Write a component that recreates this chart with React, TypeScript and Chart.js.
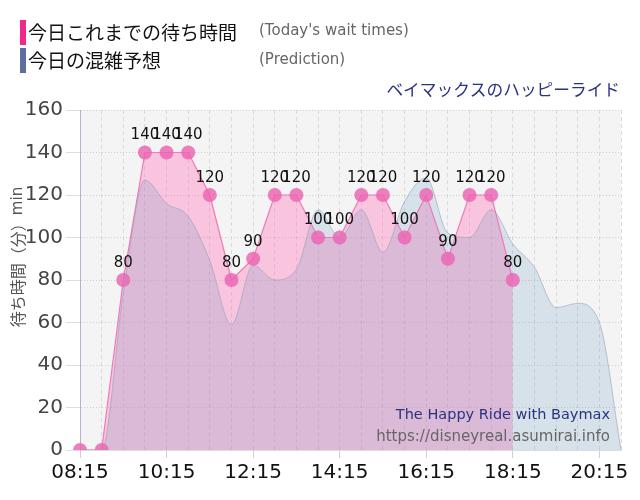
import React, { useEffect, useRef } from "react";
import { Chart, registerables } from "chart.js";

Chart.register(...registerables);

const timeLabels = [
  "08:15", "08:45", "09:15", "09:45", "10:15", "10:45", "11:15", "11:45",
  "12:15", "12:45", "13:15", "13:45", "14:15", "14:45", "15:15", "15:45",
  "16:15", "16:45", "17:15", "17:45", "18:15", "18:45", "19:15", "19:45",
  "20:15", "20:45",
];

const waitTimes: (number | null)[] = [
  0, 0, 80, 140, 140, 140, 120, 80, 90, 120, 120, 100, 100, 120, 120, 100,
  120, 90, 120, 120, 80, null, null, null, null, null,
];

const prediction = [
  0, 0, 74, 127, 116, 110, 89, 59, 87, 80, 85, 113, 100, 113, 93, 117, 128,
  102, 100, 113, 97, 86, 67, 69, 60, 0,
];

const yMin = 0;
const yMax = 160;
const yStep = 20;

const legendMain = ["今日これまでの待ち時間", "今日の混雑予想"];
const legendSub = ["(Today's wait times)", "(Prediction)"];
const rideTitle = "ベイマックスのハッピーライド";
const yTitleJa = "待ち時間（分）";
const yTitleEn = "min";
const markEn = "The Happy Ride with Baymax";
const markUrl = "https://disneyreal.asumirai.info";

const CJK = "'Noto Sans CJK JP', sans-serif";
const LAT = "'DejaVu Sans', sans-serif";

const decorPlugin = {
  id: "decor",
  beforeDraw(chart: any) {
    const { ctx, chartArea: a } = chart;
    ctx.save();
    ctx.fillStyle = "#ffffff";
    ctx.fillRect(0, 0, chart.width, chart.height);
    ctx.fillStyle = "#f4f4f4";
    ctx.fillRect(a.left, a.top, a.right - a.left, a.bottom - a.top);
    ctx.restore();
  },
  afterDatasetsDraw(chart: any) {
    const { ctx } = chart;
    const meta = chart.getDatasetMeta(1);
    ctx.save();
    ctx.font = `15px ${LAT}`;
    ctx.fillStyle = "#111";
    ctx.textAlign = "center";
    ctx.textBaseline = "middle";
    meta.data.forEach((pt: any, i: number) => {
      const v = waitTimes[i];
      if (v === null || v === 0) return;
      ctx.fillText(String(v), pt.x, pt.y - 17);
    });
    ctx.restore();
  },
  afterDraw(chart: any) {
    const { ctx } = chart;
    ctx.save();
    // legend bars
    ctx.fillStyle = "#f0288c";
    ctx.fillRect(20, 20, 6, 25);
    ctx.fillStyle = "#5f6d9e";
    ctx.fillRect(20, 48, 6, 25);
    ctx.textBaseline = "middle";
    ctx.textAlign = "left";
    ctx.font = `19px ${CJK}`;
    ctx.fillStyle = "#111";
    ctx.fillText(legendMain[0], 28, 33);
    ctx.fillText(legendMain[1], 28, 61);
    ctx.font = `15px ${LAT}`;
    ctx.fillStyle = "#666";
    ctx.fillText(legendSub[0], 259, 31);
    ctx.fillText(legendSub[1], 259, 60);
    // ride title
    ctx.textAlign = "right";
    ctx.font = `16.7px ${CJK}`;
    ctx.fillStyle = "#2a3382";
    ctx.fillText(rideTitle, 620, 90);
    // watermark
    ctx.font = `14.5px ${LAT}`;
    ctx.fillStyle = "#2a3382";
    ctx.fillText(markEn, 610, 415);
    ctx.font = `15px ${LAT}`;
    ctx.fillStyle = "#666";
    ctx.fillText(markUrl, 610, 437);
    // y title
    ctx.translate(18, 257);
    ctx.rotate(-Math.PI / 2);
    ctx.font = `16px ${CJK}`;
    const w1 = ctx.measureText(yTitleJa).width;
    ctx.font = `15px ${LAT}`;
    const w2 = ctx.measureText(yTitleEn).width;
    const start = -(w1 + w2) / 2;
    ctx.textAlign = "left";
    ctx.fillStyle = "#555";
    ctx.font = `16px ${CJK}`;
    ctx.fillText(yTitleJa, start, 0);
    ctx.font = `15px ${LAT}`;
    ctx.fillText(yTitleEn, start + w1, 0);
    ctx.restore();
  },
};

export default function App() {
  const ref = useRef<HTMLCanvasElement>(null);
  useEffect(() => {
    if (!ref.current) return;
    const chart = new Chart(ref.current, {
      type: "line",
      data: {
        labels: timeLabels,
        datasets: [
          {
            label: "Prediction",
            data: prediction,
            order: 0,
            fill: "origin",
            backgroundColor: "rgba(100,150,190,0.2)",
            borderColor: "rgba(150,160,180,0.6)",
            borderWidth: 1,
            pointRadius: 0,
            cubicInterpolationMode: "monotone",
          },
          {
            label: "Wait",
            data: waitTimes,
            order: 1,
            fill: "origin",
            backgroundColor: "rgba(255,105,180,0.35)",
            borderColor: "#f07ab8",
            borderWidth: 1.2,
            pointRadius: 7,
            pointBackgroundColor: "rgba(236,100,178,0.82)",
            pointBorderWidth: 0,
            tension: 0,
            spanGaps: false,
          },
        ],
      },
      options: {
        responsive: false,
        animation: false,
        devicePixelRatio: 1,
        layout: { padding: { left: 0, right: 19, top: 110, bottom: 0 } },
        plugins: {
          legend: { display: false },
          tooltip: { enabled: false },
          filler: { drawTime: "beforeDatasetsDraw" },
        },
        scales: {
          x: {
            type: "category",
            afterFit: (s: any) => { s.height = 50; },
            grid: {
              color: "#dadada",
              tickColor: (c: any) => (c.index % 4 === 0 ? "#d0d0d0" : "rgba(0,0,0,0)"),
              tickLength: 8,
            },
            border: { color: "#dddddd", dash: [4, 3] },
            ticks: {
              autoSkip: false,
              maxRotation: 0,
              color: "#111",
              font: { family: LAT, size: 20 },
              padding: 3,
              callback: (_v: any, i: number) => (i % 4 === 0 ? timeLabels[i] : ""),
            },
          },
          y: {
            min: yMin,
            max: yMax,
            afterFit: (s: any) => { s.width = 80; },
            grid: { color: "#cfcfcf", tickColor: "#dddddd", tickLength: 14 },
            border: { color: "#b8b0cc", dash: [1, 2] },
            ticks: {
              stepSize: yStep,
              color: "#444",
              font: { family: LAT, size: 20 },
              padding: 3,
            },
          },
        },
      },
      plugins: [decorPlugin],
    });
    return () => chart.destroy();
  }, []);
  return (
    <div style={{ position: "absolute", left: 0, top: 0, width: 640, height: 500 }}>
      <canvas ref={ref} width={640} height={500} />
    </div>
  );
}
